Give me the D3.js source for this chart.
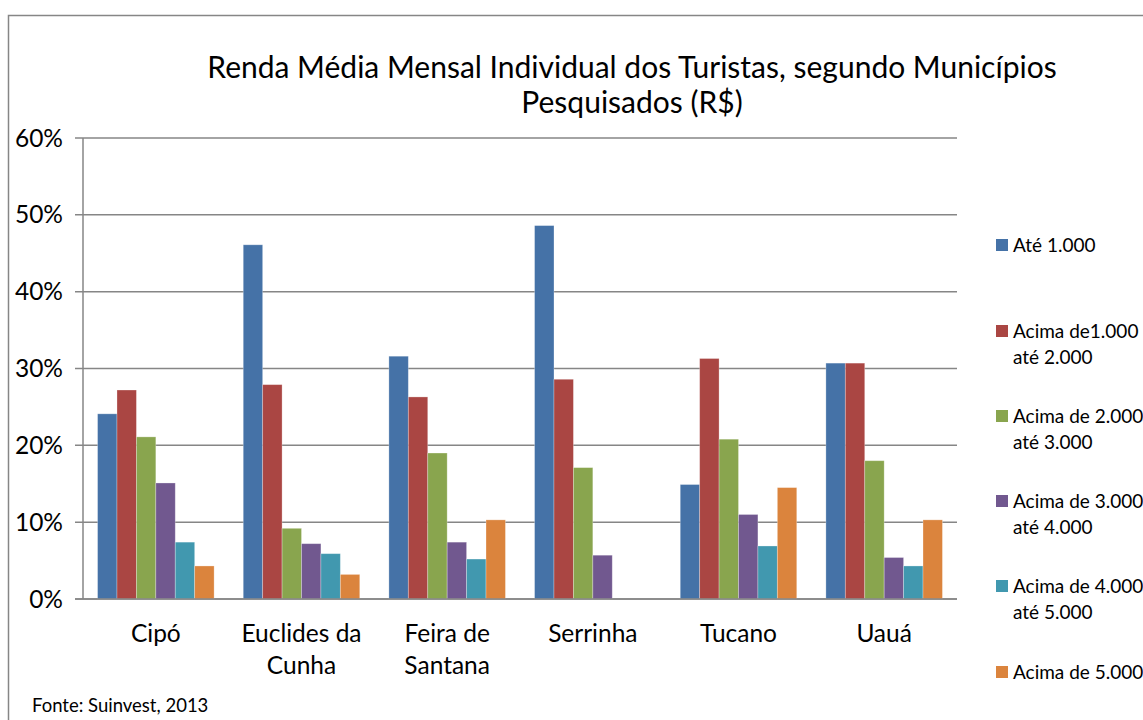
<!DOCTYPE html>
<html>
<head>
<meta charset="utf-8">
<script src="https://cdn.jsdelivr.net/npm/d3@7"></script>
<style>
  body { margin: 0; background: #fff; }
  svg { display: block; font-family: Lato, "Open Sans", sans-serif; }
</style>
</head>
<body>
<div id="chartCont"></div>
<script>
// categories (municipios) and series
let municipios = ["Cipó", "Euclides da|Cunha", "Feira de|Santana", "Serrinha", "Tucano", "Uauá"];
let faixas = ["Até 1.000", "Acima de1.000|até 2.000", "Acima de 2.000|até 3.000",
  "Acima de 3.000|até 4.000", "Acima de 4.000|até 5.000", "Acima de 5.000"];
let ate1000 = [24.1, 46.1, 31.6, 48.6, 14.9, 30.7];
let de1000a2000 = [27.2, 27.9, 26.3, 28.6, 31.3, 30.7];
let de2000a3000 = [21.1, 9.2, 19.0, 17.1, 20.8, 18.0];
let de3000a4000 = [15.1, 7.2, 7.4, 5.7, 11.0, 5.4];
let de4000a5000 = [7.4, 5.9, 5.2, 0, 6.9, 4.3];
let acima5000 = [4.3, 3.2, 10.3, 0, 14.5, 10.3];
let yTicks = [0, 10, 20, 30, 40, 50, 60];
let cores = ["#4572A7", "#AA4643", "#89A54E", "#71588F", "#4198AF", "#DB843D"];

let series = [ate1000, de1000a2000, de2000a3000, de3000a4000, de4000a5000, acima5000];

(function() {
  let width = 1143, height = 720;
  let svg = d3.select("#chartCont").append("svg")
    .attr("width", width).attr("height", height);

  // outer frame (cut at right and bottom like the picture)
  svg.append("rect")
    .attr("x", 8.5).attr("y", 15.5)
    .attr("width", 1200).attr("height", 800)
    .attr("fill", "none").attr("stroke", "#868686").attr("stroke-width", 1.5);

  let left = 83, right = 957, top = 138, bottom = 599;

  let y = d3.scaleLinear().domain([0, 60]).range([bottom, top]);
  let x0 = d3.scaleBand().domain(d3.range(municipios.length)).range([left, right]);
  let x1 = d3.scaleBand().domain(d3.range(faixas.length))
    .range([x0.bandwidth() * 0.1, x0.bandwidth() * 0.9]);

  // gridlines and y ticks
  svg.append("g").selectAll("line").data(yTicks).enter().append("line")
    .attr("x1", left - 8).attr("x2", right)
    .attr("y1", d => y(d)).attr("y2", d => y(d))
    .attr("stroke", "#868686").attr("stroke-width", 1.5);

  svg.append("g").selectAll("text").data(yTicks).enter().append("text")
    .attr("x", 63).attr("y", d => y(d) + 8.5)
    .attr("text-anchor", "end")
    .style("font-size", "24.5px").attr("fill", "#000")
    .text(d => d + "%");

  // bars
  let groups = svg.append("g").selectAll("g").data(municipios).enter().append("g")
    .attr("transform", (d, i) => "translate(" + x0(i) + ",0)");

  groups.selectAll("rect")
    .data((d, i) => series.map((s, j) => ({ j: j, v: s[i] })))
    .enter().append("rect")
    .attr("x", d => x1(d.j))
    .attr("width", x1.bandwidth())
    .attr("y", d => y(d.v))
    .attr("height", d => bottom - y(d.v))
    .attr("fill", d => cores[d.j])
    .attr("stroke", d => d.v > 0 ? "rgba(255,255,255,0.35)" : "none")
    .attr("stroke-width", 0.8);

  // axis lines
  svg.append("line").attr("x1", left).attr("x2", left)
    .attr("y1", top).attr("y2", bottom)
    .attr("stroke", "#868686").attr("stroke-width", 1.5);
  svg.append("line").attr("x1", left - 8).attr("x2", right)
    .attr("y1", bottom).attr("y2", bottom)
    .attr("stroke", "#868686").attr("stroke-width", 1.5);

  // category labels
  let cat = svg.append("g").selectAll("text").data(municipios).enter().append("text")
    .attr("x", (d, i) => x0(i) + x0.bandwidth() / 2)
    .attr("y", 642)
    .attr("text-anchor", "middle")
    .style("font-size", "24.5px").attr("fill", "#000");
  cat.each(function(d) {
    let linhas = d.split("|");
    d3.select(this).selectAll("tspan").data(linhas).enter().append("tspan")
      .attr("x", d3.select(this).attr("x"))
      .attr("dy", (l, k) => k === 0 ? 0 : 32)
      .text(l => l);
  });

  // title
  let title = svg.append("text").attr("x", 632).attr("y", 78)
    .attr("text-anchor", "middle").style("font-size", "30px").attr("fill", "#000");
  title.append("tspan").attr("x", 632).attr("dy", 0)
    .text("Renda Média Mensal Individual dos Turistas, segundo Municípios");
  title.append("tspan").attr("x", 632).attr("dy", 35)
    .text("Pesquisados (R$)");

  // legend
  let legY = [245, 331, 416, 501, 586, 672];
  let leg = svg.append("g").selectAll("g").data(faixas).enter().append("g")
    .attr("transform", (d, i) => "translate(996," + legY[i] + ")");
  leg.append("rect").attr("x", 0).attr("y", -6).attr("width", 12).attr("height", 12)
    .attr("fill", (d, i) => cores[i]);
  leg.append("text").attr("x", 17).attr("y", 6.5)
    .style("font-size", "19px").attr("fill", "#000")
    .each(function(d) {
      d3.select(this).selectAll("tspan").data(d.split("|")).enter().append("tspan")
        .attr("x", 17).attr("dy", (l, k) => k === 0 ? 0 : 26)
        .text(l => l);
    });

  // source note
  svg.append("text").attr("x", 32).attr("y", 712)
    .style("font-size", "18.5px").attr("fill", "#000")
    .text("Fonte: Suinvest, 2013");
})();
</script>
</body>
</html>
